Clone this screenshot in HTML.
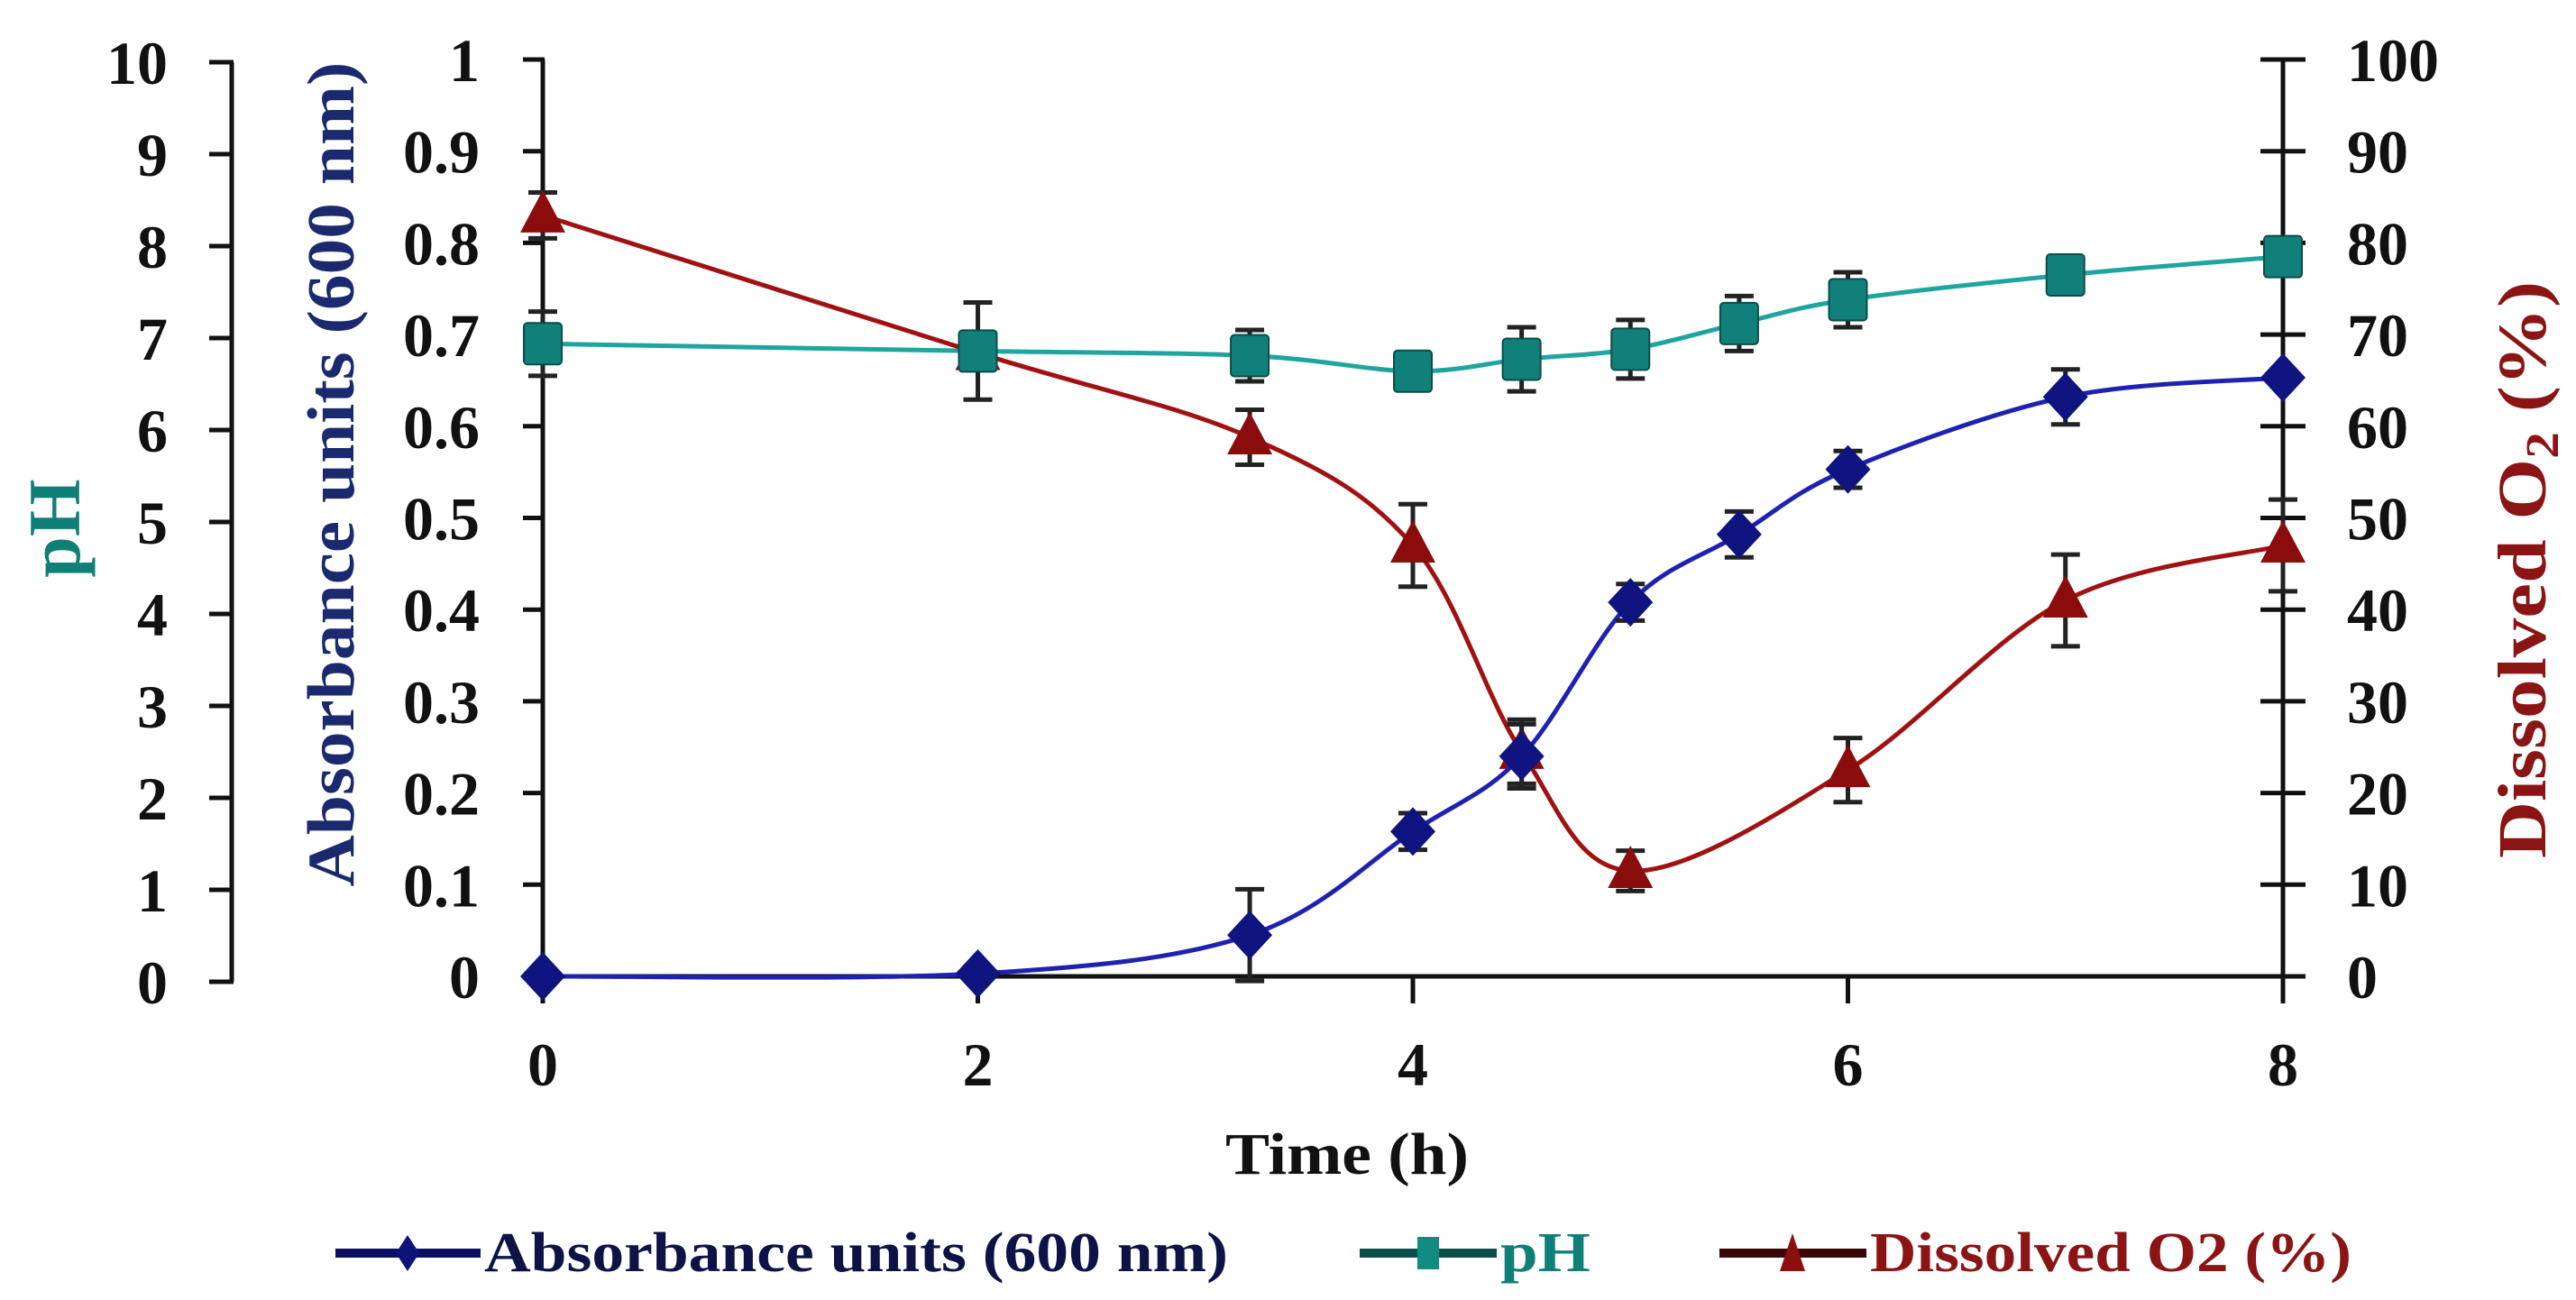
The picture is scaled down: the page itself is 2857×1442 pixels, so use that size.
<!DOCTYPE html>
<html><head><meta charset="utf-8"><style>
html,body{margin:0;padding:0;background:#fff;}
svg{display:block;font-family:"Liberation Serif",serif;font-weight:bold;}
</style></head><body>
<svg id="chart" width="2857" height="1442" viewBox="0 0 2857 1442" xmlns="http://www.w3.org/2000/svg">
<g id="axes"></g>
<g id="series"></g>
<text transform="translate(88,586) rotate(-90)" text-anchor="middle" font-size="82" fill="#0f7f78">pH</text>
<text transform="translate(392,526) rotate(-90)" text-anchor="middle" font-size="74" fill="#1b2a6e" textLength="915" lengthAdjust="spacingAndGlyphs">Absorbance units (600 nm)</text>
<text transform="translate(2823,632) rotate(-90)" text-anchor="middle" font-size="76" fill="#8b1414" textLength="640" lengthAdjust="spacingAndGlyphs">Dissolved O<tspan font-size="52" dy="14">2</tspan><tspan dy="-14"> (%)</tspan></text>
<text x="1494" y="1302" text-anchor="middle" font-size="66" fill="#111" textLength="270" lengthAdjust="spacingAndGlyphs">Time (h)</text>
<g>
 <g>
  <line x1="372" y1="1390" x2="533" y2="1390" stroke="#0d1060" stroke-width="10"/>
  <polygon points="452,1370 465,1390 452,1410 439,1390" fill="#0d1378"/>
  <text x="537" y="1410" font-size="62" fill="#0d1346" textLength="825" lengthAdjust="spacingAndGlyphs">Absorbance units (600 nm)</text>
 </g>
 <g>
  <line x1="1508" y1="1390" x2="1660" y2="1390" stroke="#0a4f4a" stroke-width="10"/>
  <rect x="1572" y="1372" width="24" height="36" fill="#138a82"/>
  <text x="1664" y="1410" font-size="62" fill="#0f7f78" textLength="100" lengthAdjust="spacingAndGlyphs">pH</text>
 </g>
 <g>
  <line x1="1907" y1="1390" x2="2070" y2="1390" stroke="#3a0606" stroke-width="10"/>
  <polygon points="1988,1368 2002,1410 1974,1410" fill="#8b0f0f"/>
  <text x="2074" y="1410" font-size="62" fill="#8b1414" textLength="534" lengthAdjust="spacingAndGlyphs">Dissolved O2 (%)</text>
 </g>
</g>
</svg>
<script>
const times = [0, 2, 3.25, 4, 4.5, 5, 5.5, 6, 7, 8];
const absorbance = [0, 0.003, 0.045, 0.158, 0.24, 0.408, 0.482, 0.553, 0.632, 0.653];
const absorbanceErr = [0, 0, 0.05, 0.02, 0.035, 0.02, 0.025, 0.02, 0.03, 0.005];
const phValues = [6.9, 6.82, 6.77, 6.6, 6.73, 6.84, 7.12, 7.38, 7.65, 7.85];
const phErr = [0.35, 0.53, 0.28, 0.1, 0.35, 0.32, 0.3, 0.3, 0.15, 0.05];
const dissolvedO2 = [83, 68, 58.8, 47, 24.5, 11.5, 0, 22.5, 41, 47];
const dissolvedO2Err = [2.5, 0, 3, 4.5, 3.5, 2.2, 0, 3.5, 5, 5];
const o2Present = [1,1,1,1,1,1,0,1,1,1];
const absTicks = ['0','0.1','0.2','0.3','0.4','0.5','0.6','0.7','0.8','0.9','1'];
const phTicks = ['0','1','2','3','4','5','6','7','8','9','10'];
const o2Ticks = ['0','10','20','30','40','50','60','70','80','90','100'];
const xTicks = [0, 2, 4, 6, 8];

const NS = 'http://www.w3.org/2000/svg';
const X0 = 602, X1 = 2532, Y0 = 1083, Y1 = 66;
const xs = t => X0 + (X1 - X0) * t / 8;
const yAbs = v => Y0 - (Y0 - Y1) * v;
const yPh = v => Y0 - (Y0 - Y1) * v / 10;
const yO2 = v => Y0 - (Y0 - Y1) * v / 100;
const phAxY = v => 1089 - 102 * v;

function mk(tag, attrs, parent) {
  const e = document.createElementNS(NS, tag);
  for (const k in attrs) e.setAttribute(k, attrs[k]);
  parent.appendChild(e);
  return e;
}
const axes = document.getElementById('axes');
const series = document.getElementById('series');
const AX = '#111';

let el = mk('line', {x1:257, y1:phAxY(10), x2:257, y2:phAxY(0), stroke:AX, 'stroke-width':5}, axes);


phTicks.forEach((lab, i) => {
  const y = phAxY(i);
  const t = mk('line', {x1:232, y1:y, x2:259, y2:y, stroke:AX, 'stroke-width':5}, axes);
  
  
  const tx = mk('text', {x:186, y:y + 24, 'text-anchor':'end', 'font-size':68, fill:'#111'}, axes);
  tx.textContent = lab;
  
  
});

el = mk('line', {x1:X0, y1:Y1, x2:X0, y2:Y0, stroke:AX, 'stroke-width':5}, axes);


absTicks.forEach((lab, i) => {
  const y = yAbs(i / 10);
  const t = mk('line', {x1:580, y1:y, x2:604, y2:y, stroke:AX, 'stroke-width':5}, axes);
  
  
  const tx = mk('text', {x:532, y:y + 24, 'text-anchor':'end', 'font-size':68, fill:'#111'}, axes);
  tx.textContent = lab;
  
  
});

el = mk('line', {x1:X1, y1:Y1 - 2, x2:X1, y2:Y0, stroke:AX, 'stroke-width':5}, axes);


o2Ticks.forEach((lab, i) => {
  const y = yO2(i * 10);
  const t = mk('line', {x1:X1 - 25, y1:y, x2:X1 + 25, y2:y, stroke:AX, 'stroke-width':5}, axes);
  
  
  const tx = mk('text', {x:2603, y:y + 24, 'text-anchor':'start', 'font-size':68, fill:'#111'}, axes);
  tx.textContent = lab;
  
  
});

el = mk('line', {x1:X0, y1:Y0, x2:X1, y2:Y0, stroke:AX, 'stroke-width':5}, axes);


xTicks.forEach(v => {
  const x = xs(v);
  const t = mk('line', {x1:x, y1:Y0, x2:x, y2:Y0 + 30, stroke:AX, 'stroke-width':5}, axes);
  
  
  const tx = mk('text', {x:x, y:1204, 'text-anchor':'middle', 'font-size':68, fill:'#111'}, axes);
  tx.textContent = String(v);
  
  
});

function smoothPath(pts) {
  let d = 'M' + pts[0][0] + ',' + pts[0][1];
  for (let i = 0; i < pts.length - 1; i++) {
    const p0 = pts[i - 1] || pts[i], p1 = pts[i], p2 = pts[i + 1], p3 = pts[i + 2] || p2;
    const k = 6;
    const c1 = [p1[0] + (p2[0] - p0[0]) / k, p1[1] + (p2[1] - p0[1]) / k];
    const c2 = [p2[0] - (p3[0] - p1[0]) / k, p2[1] - (p3[1] - p1[1]) / k];
    d += ' C' + c1 + ' ' + c2 + ' ' + p2;
  }
  return d;
}

function drawSeries(name, vals, errs, present, yf, lineColor, markColor, shape) {
  const g = mk('g', {}, series);
  
  
  const pts = [];
  vals.forEach((v, i) => { if (present[i]) pts.push([xs(times[i]), yf(v)]); });
  const p = mk('path', {d:smoothPath(pts), fill:'none', stroke:lineColor, 'stroke-width':5}, g);
  
  
  vals.forEach((v, i) => {
    if (!present[i]) return;
    const x = xs(times[i]), y = yf(v);
    if (errs[i] > 0) {
      const ya = yf(v + errs[i]), yb = yf(v - errs[i]);
      const eb = mk('path', {d:`M${x},${ya}V${yb}M${x-16},${ya}H${x+16}M${x-16},${yb}H${x+16}`, stroke:'#222', 'stroke-width':5, fill:'none'}, g);
      
      
    }
    let m;
    if (shape === 'diamond') m = mk('polygon', {points:`${x},${y-27} ${x+25},${y} ${x},${y+27} ${x-25},${y}`, fill:markColor}, g);
    else if (shape === 'square') m = mk('rect', {x:x-21, y:y-23, width:42, height:46, rx:4, fill:markColor, stroke:'#0a4d48', 'stroke-width':2}, g);
    else m = mk('polygon', {points:`${x},${y-28} ${x+25},${y+19} ${x-25},${y+19}`, fill:markColor}, g);
    
    
  });
}
const all = times.map(() => 1);
drawSeries('dissolved-o2', dissolvedO2, dissolvedO2Err, o2Present, yO2, '#a01212', '#8a0c0c', 'triangle');
drawSeries('ph', phValues, phErr, all, yPh, '#1fa5a0', '#12807a', 'square');
drawSeries('absorbance', absorbance, absorbanceErr, all, yAbs, '#1f22b0', '#0f1480', 'diamond');
</script>
</body></html>
